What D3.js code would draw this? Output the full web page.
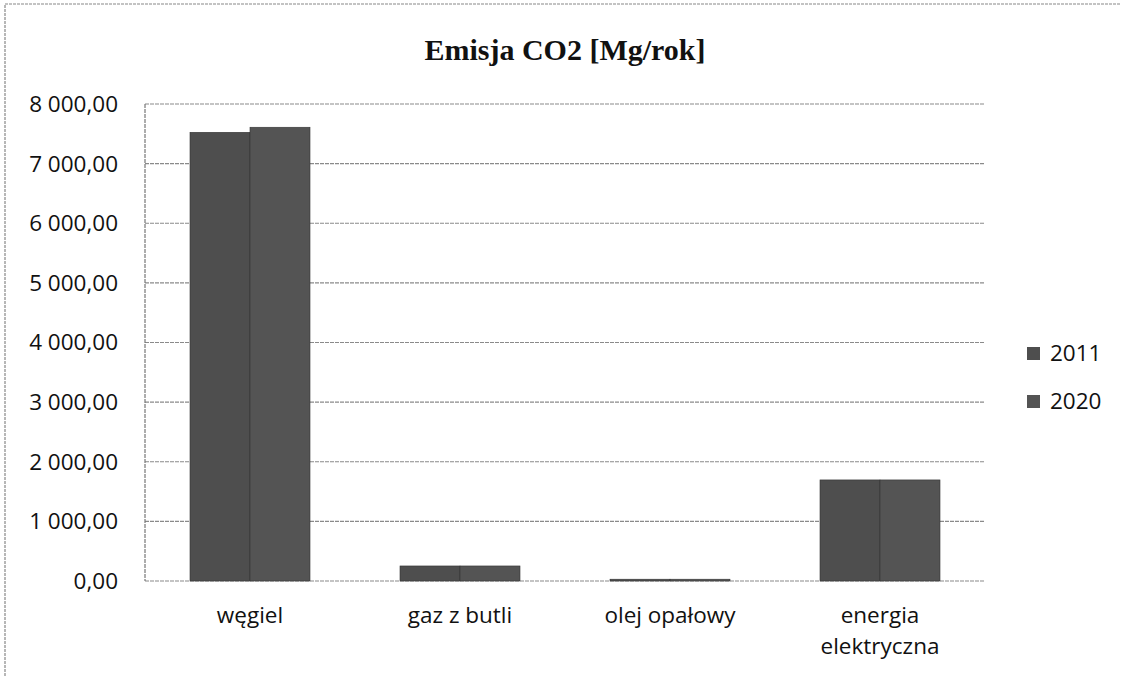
<!DOCTYPE html>
<html lang="pl">
  <head>
    <meta charset="UTF-8" />
    <title>Emisja CO2 [Mg/rok]</title>
    <script src="https://cdnjs.cloudflare.com/ajax/libs/d3/7.8.5/d3.min.js"></script>
    <style>
      body {
        margin: 0;
        background: #fff;
      }
      .title {
        font-family: "Liberation Serif", "DejaVu Serif", serif;
        font-weight: bold;
        font-size: 30px;
        fill: #111;
      }
      .axis text,
      .legend text,
      .xlab {
        font-family: "Open Sans", "Noto Sans", sans-serif;
        font-size: 22.5px;
        fill: #111;
      }
    </style>
  </head>
  <body>
    <svg width="1121" height="677"></svg>
    <script>
      // dane
      const categories = ["węgiel", "gaz z butli", "olej opałowy", "energia elektryczna"];
      const series = ["2011", "2020"];
      const values2011 = [7525, 252, 30, 1695];
      const values2020 = [7610, 252, 30, 1695];
      const yTicks = [0, 1000, 2000, 3000, 4000, 5000, 6000, 7000, 8000];

      const svg = d3.select("svg");
      const margin = { left: 145, top: 104, right: 985, bottom: 581 };

      // ramka wykresu
      svg.append("rect")
        .attr("x", 5).attr("y", 4)
        .attr("width", 1130).attr("height", 690)
        .attr("fill", "none")
        .attr("stroke", "#888")
        .attr("stroke-width", 1.2)
        .attr("stroke-dasharray", "3,1");

      svg.append("text")
        .attr("class", "title")
        .attr("x", 565)
        .attr("y", 60)
        .attr("text-anchor", "middle")
        .text("Emisja CO2 [Mg/rok]");

      const x = d3.scaleBand()
        .domain(categories)
        .range([margin.left, margin.right]);

      // szerokosc przerwy 150%
      const xs = d3.scaleBand()
        .domain(series)
        .range([0, x.bandwidth()])
        .paddingOuter(0.75)
        .paddingInner(0);

      const y = d3.scaleLinear()
        .domain([0, 8000])
        .range([margin.bottom, margin.top]);

      const fmt = v => d3.format(",.2f")(v).replace(/,/g, " ").replace(".", ",");

      // linie siatki
      svg.append("g")
        .selectAll("line")
        .data(yTicks)
        .join("line")
        .attr("x1", margin.left)
        .attr("x2", margin.right)
        .attr("y1", d => y(d))
        .attr("y2", d => y(d))
        .attr("stroke", "#8a8a8a")
        .attr("stroke-width", 1.2)
        .attr("stroke-dasharray", "4,1");

      // os Y
      svg.append("line")
        .attr("x1", margin.left).attr("x2", margin.left)
        .attr("y1", margin.top).attr("y2", margin.bottom)
        .attr("stroke", "#777")
        .attr("stroke-width", 1.2)
        .attr("stroke-dasharray", "4,1");

      svg.append("g")
        .attr("class", "axis")
        .selectAll("text")
        .data(yTicks)
        .join("text")
        .attr("x", 118)
        .attr("y", d => y(d))
        .attr("dy", "0.35em")
        .attr("text-anchor", "end")
        .text(fmt);

      // slupki
      const colors = { "2011": "#4e4e4e", "2020": "#545454" };
      const rows = categories.map((c, i) => ({ cat: c, vals: [values2011[i], values2020[i]] }));

      svg.append("g")
        .selectAll("g")
        .data(rows)
        .join("g")
        .attr("transform", d => `translate(${x(d.cat)},0)`)
        .selectAll("rect")
        .data(d => series.map((s, j) => ({ s, v: d.vals[j] })))
        .join("rect")
        .attr("x", d => xs(d.s))
        .attr("width", xs.bandwidth())
        .attr("y", d => y(d.v))
        .attr("height", d => y(0) - y(d.v))
        .attr("fill", d => colors[d.s])
        .attr("stroke", "#333")
        .attr("stroke-width", 0.6);

      // etykiety X
      const xl = svg.append("g")
        .selectAll("text")
        .data(categories)
        .join("text")
        .attr("class", "xlab")
        .attr("text-anchor", "middle")
        .attr("x", d => x(d) + x.bandwidth() / 2)
        .attr("y", 623);

      xl.each(function (d) {
        const t = d3.select(this);
        const parts = d === "energia elektryczna" ? ["energia", "elektryczna"] : [d];
        parts.forEach((p, i) => {
          t.append("tspan")
            .attr("x", x(d) + x.bandwidth() / 2)
            .attr("dy", i === 0 ? 0 : 31)
            .text(p);
        });
      });

      // legenda
      const legend = svg.append("g")
        .attr("class", "legend")
        .selectAll("g")
        .data(series)
        .join("g")
        .attr("transform", (d, i) => `translate(1027,${353 + i * 48})`);

      legend.append("rect")
        .attr("x", 0).attr("y", -6)
        .attr("width", 13).attr("height", 13)
        .attr("fill", d => colors[d]);

      legend.append("text")
        .attr("x", 23)
        .attr("dy", "0.35em")
        .text(d => d);
    </script>
  </body>
</html>
